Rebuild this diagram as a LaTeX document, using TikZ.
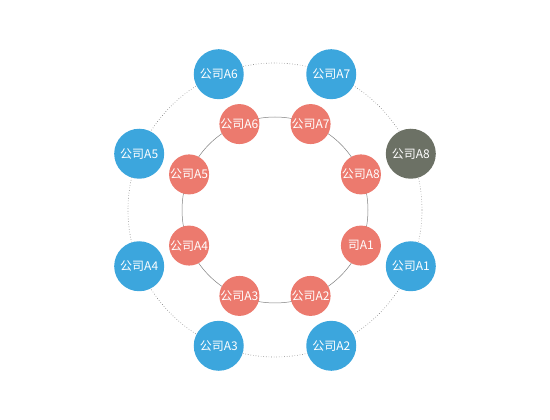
\documentclass[tikz,border=0pt]{standalone}
\usepackage{fontspec}
\setmainfont{Noto Sans CJK SC}
\definecolor{coblue}{RGB}{60,166,221}
\definecolor{cored}{RGB}{236,122,110}
\definecolor{cogray}{RGB}{108,113,101}
\usetikzlibrary{positioning,calc}

\begin{document}
\begin{tikzpicture}[
  x=1pt,y=1pt,
  every node/.style={font=\fontsize{12}{13}\selectfont,text=white},
  outerco/.style={circle,fill=coblue,minimum size=50pt,inner sep=0pt},
  innerco/.style={circle,fill=cored,minimum size=40pt,inner sep=0pt},
  ring/.style={gray,line width=0.6pt},
]
  \useasboundingbox (0,0) rectangle (550,420);
  \coordinate (ctr) at (275,210);

  % Rings
  \draw[ring,dotted] (ctr) circle (147pt);
  \draw[ring,line width=0.5pt] (ctr) circle (93pt);

  % Outer companies
  \node[outerco] (o1) at ($(ctr)+(-22.5:147pt)$) {\makebox[0pt]{公司A1}};
  \node[outerco] (o2) at ($(ctr)+(-67.5:147pt)$) {\makebox[0pt]{公司A2}};
  \node[outerco] (o3) at ($(ctr)+(-112.5:147pt)$) {\makebox[0pt]{公司A3}};
  \node[outerco] (o4) at ($(ctr)+(-157.5:147pt)$) {\makebox[0pt]{公司A4}};
  \node[outerco] (o5) at ($(ctr)+(157.5:147pt)$) {\makebox[0pt]{公司A5}};
  \node[outerco] (o6) at ($(ctr)+(112.5:147pt)$) {\makebox[0pt]{公司A6}};
  \node[outerco] (o7) at ($(ctr)+(67.5:147pt)$) {\makebox[0pt]{公司A7}};
  \node[outerco,fill=cogray] (o8) at ($(ctr)+(22.5:147pt)$) {\makebox[0pt]{公司A8}};

  % Inner companies
  \node[innerco] (i1) at ($(ctr)+(-22.5:93pt)$) {\makebox[0pt]{司A1}};
  \node[innerco] (i2) at ($(ctr)+(-67.5:93pt)$) {\makebox[0pt]{公司A2}};
  \node[innerco] (i3) at ($(ctr)+(-112.5:93pt)$) {\makebox[0pt]{公司A3}};
  \node[innerco] (i4) at ($(ctr)+(-157.5:93pt)$) {\makebox[0pt]{公司A4}};
  \node[innerco] (i5) at ($(ctr)+(157.5:93pt)$) {\makebox[0pt]{公司A5}};
  \node[innerco] (i6) at ($(ctr)+(112.5:93pt)$) {\makebox[0pt]{公司A6}};
  \node[innerco] (i7) at ($(ctr)+(67.5:93pt)$) {\makebox[0pt]{公司A7}};
  \node[innerco] (i8) at ($(ctr)+(22.5:93pt)$) {\makebox[0pt]{公司A8}};
\end{tikzpicture}
\end{document}
